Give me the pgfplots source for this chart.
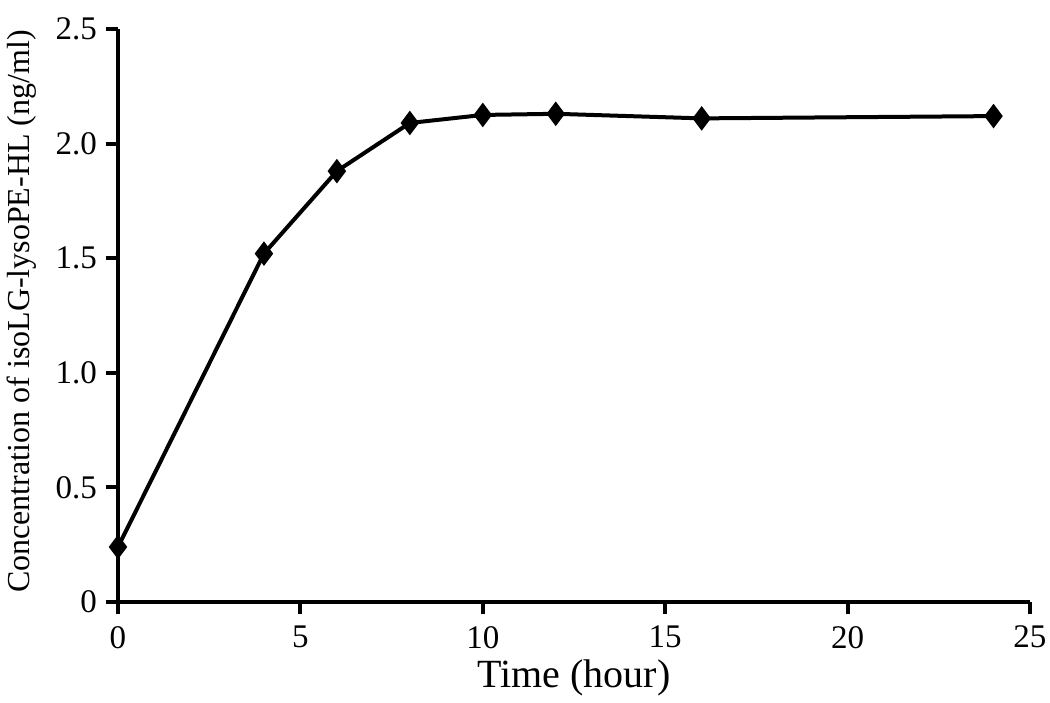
\documentclass[border=0pt]{standalone}
\usepackage{fontspec}
\setmainfont{Liberation Serif}
\usepackage{pgfplots}
\pgfplotsset{compat=1.18}
\begin{document}
\begin{tikzpicture}
\begin{axis}[
  scale only axis,
  width=456pt, height=286.5pt,
  xmin=0, xmax=25, ymin=0, ymax=2.5,
  axis x line*=bottom, axis y line*=left,
  axis line style={line width=2pt},
  xtick={0,5,10,15,20,25},
  ytick={0,0.5,1.0,1.5,2.0,2.5},
  yticklabels={0,0.5,1.0,1.5,2.0,2.5},
  tick align=outside,
  major tick length=6pt,
  tick style={line width=2pt, black},
  /pgf/number format/assume math mode=true,
  tick label style={font=\fontsize{16.5}{19}\selectfont},
  xticklabel style={yshift=-2.5pt},
  yticklabel style={xshift=-1pt},
  xlabel={Time (hour)},
  ylabel={Concentration of isoLG-lysoPE-HL (ng/ml)},
  xlabel style={font=\fontsize{20}{23}\selectfont, yshift=1pt},
  ylabel style={font=\fontsize{16}{19}\selectfont, at={(ticklabel cs:0.507)}},
  ylabel shift=3pt,
  clip=false,
]
\addplot[black, line width=2pt, mark=diamond*, mark size=4.5pt, mark options={solid, fill=black}]
coordinates {(0,0.24) (4,1.52) (6,1.88) (8,2.09) (10,2.125) (12,2.13) (16,2.11) (24,2.12)};
\end{axis}
\pgfresetboundingbox
\path[use as bounding box] ([shift={(-59pt,-50pt)}]current axis.south west) rectangle ([shift={(10pt,14.5pt)}]current axis.north east);
\end{tikzpicture}
\end{document}
